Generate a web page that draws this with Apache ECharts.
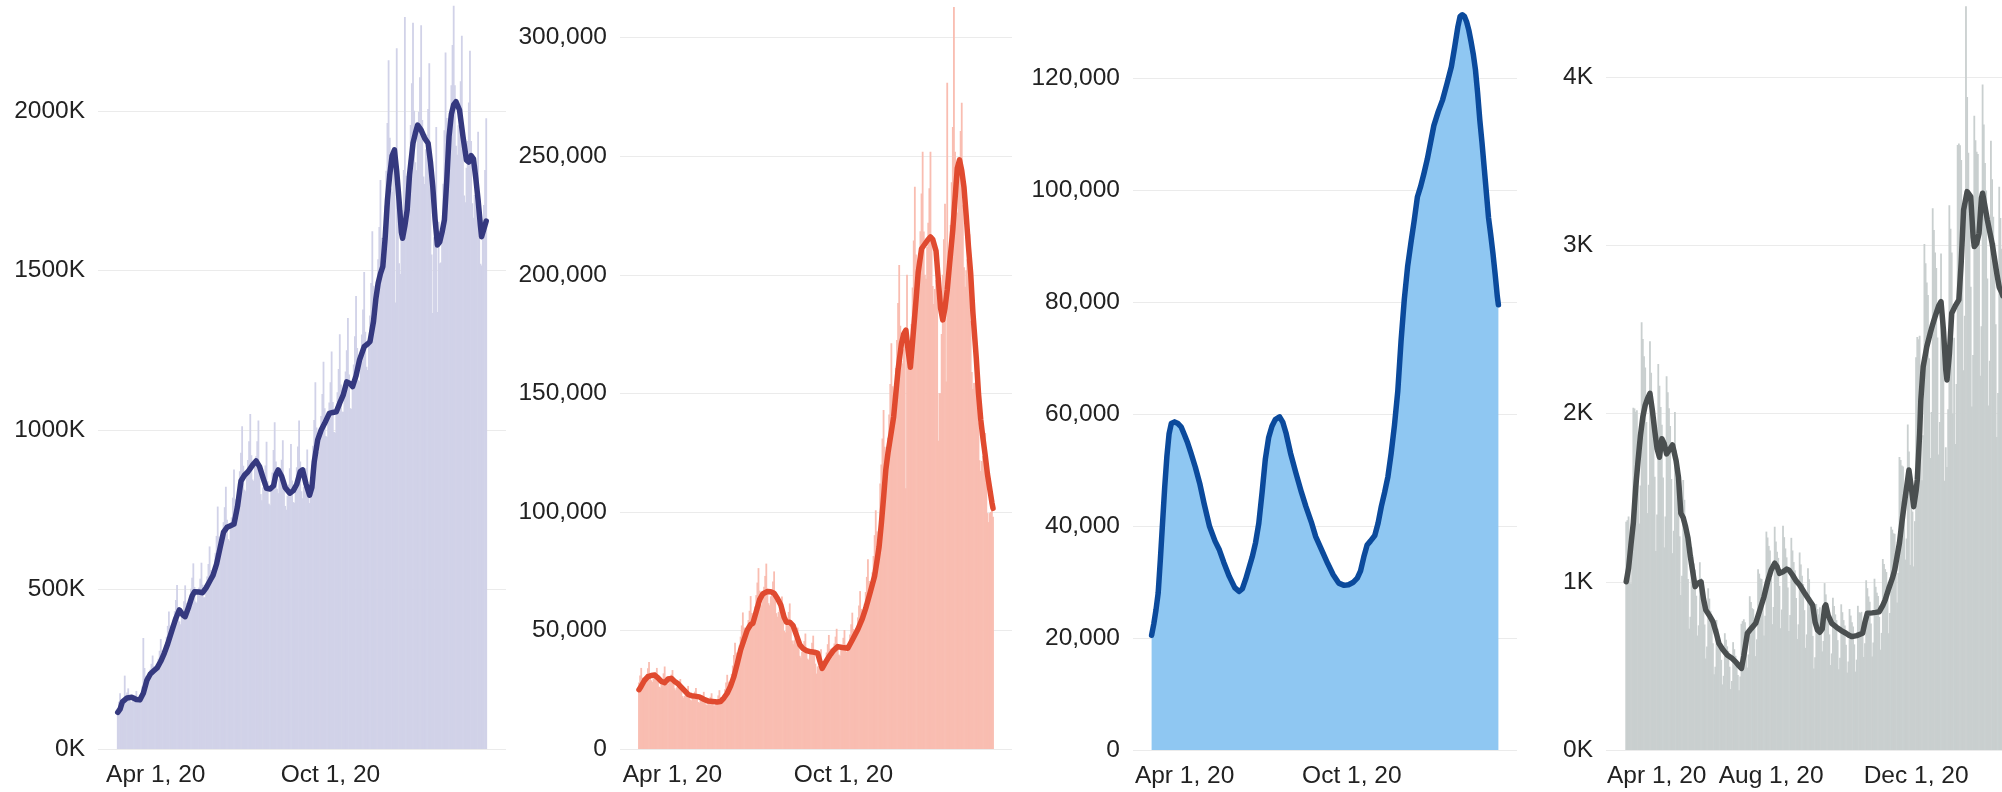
<!DOCTYPE html>
<html><head><meta charset="utf-8">
<script src="https://cdn.jsdelivr.net/npm/echarts@6/dist/echarts.min.js"></script>
<style>html,body{margin:0;padding:0;background:#fff;overflow:hidden}#c{width:2002px;height:792px}</style>
</head><body><div id="c"></div>
<script>
// x positions are day offsets from Apr 1, 2020
const startDate = '2020-04-01';
const xMinDay = -17, xMaxDay = 334;
const tickDaysMain = [0, 183];
const tickLabelsMain = ['Apr 1, 20', 'Oct 1, 20'];
const tickDaysDeaths = [0, 122, 244];
const tickLabelsDeaths = ['Apr 1, 20', 'Aug 1, 20', 'Dec 1, 20'];

// Panel 1: daily tests (K)
const testsDaily = [
129,148,175,157,146,147,230, 166,177,190,167,150,147,154, 160,169,182,159,150,156,173,
196,348,254,229,214,219,236, 249,267,293,260,240,244,265, 283,308,345,309,291,298,327,
352,386,431,387,365,371,406, 432,467,514,443,400,391,414, 427,463,513,458,430,435,475,
502,537,582,508,462,458,486, 506,534,584,515,475,476,513, 541,580,635,561,524,528,574,
615,668,760,666,623,632,678, 711,758,822,719,658,653,696, 726,788,876,783,740,756,832,
871,929,1012,888,813,808,865, 906,965,1050,921,845,840,888, 918,965,1030,888,799,780,820,
842,889,963,839,769,764,817, 867,937,1024,901,816,802,846, 868,907,968,839,762,750,794,
829,880,956,842,774,772,835, 883,948,1030,901,808,786,822, 844,880,939,832,771,800,891,
951,1031,1150,1008,931,930,997, 1044,1113,1214,1068,981,978,1042, 1086,1150,1246,1088,994,991,1065,
1118,1191,1300,1143,1057,1057,1139, 1183,1250,1351,1174,1068,1067,1147, 1205,1294,1420,1257,1156,1153,1238,
1299,1378,1495,1308,1198,1188,1285, 1359,1461,1623,1452,1349,1358,1460, 1535,1636,1784,1603,1504,1544,1704,
1813,1962,2159,1916,1757,1747,1826, 1864,1400,2197,1720,1523,1489,1604, 1689,1815,2295,1797,1692,1705,1847,
1956,2087,2277,2001,1839,1814,1926, 1998,2106,2269,1972,1795,1771,1880, 1926,2006,2150,1816,1550,1367,1604,
1627,1950,1370,1653,1523,1525,1641, 1772,1940,2183,1978,1838,1851,1985, 2081,2207,2330,2081,1891,1863,1955,
2006,2093,2236,1927,1735,1714,1822, 1906,2027,2189,1906,1711,1665,1737, 1773,1831,1935,1654,1521,1516,1627,
1705,1815,1977];
const testsAvgDays = [0,2,4,8,12,16,19,22,25,28,31,34,37,40,43,46,50,53,56,58,61,64,66,70,73,76,79,82,85,88,91,94,97,100,103,106,109,112,116,119,122,125,128,131,134,136,138,141,144,148,151,154,157,159,162,165,167,169,172,175,178,182,185,188,191,194,197,200,202,205,208,212,215,217,220,222,224,226,228,230,232,234,236,238,240,242,244,245,247,249,251,254,256,258,261,264,267,269,271,273,275,277,279,281,283,285,287,289,291,294,297,300,302,304,306,308,310,312,313,315,317];
const testsAvgVals = [115,125,148,160,162,155,154,175,215,235,245,255,275,300,330,365,410,436,420,415,445,480,493,492,490,505,525,545,580,630,680,695,700,705,760,840,858,869,890,903,885,850,817,815,825,860,875,855,820,802,810,830,870,875,830,796,820,900,969,1000,1021,1052,1055,1057,1085,1110,1151,1145,1136,1170,1220,1261,1270,1277,1340,1410,1460,1490,1512,1600,1721,1800,1860,1878,1810,1720,1620,1601,1640,1690,1800,1899,1930,1956,1940,1915,1899,1840,1763,1660,1580,1590,1620,1658,1780,1920,1990,2020,2029,2003,1920,1846,1840,1860,1850,1790,1721,1640,1606,1630,1655];

// Panel 2: daily cases (thousands)
const casesDaily = [
28.1,31,34.2,30.1,27.9,28.1,30.1, 31.7,34.1,36.7,31.7,29,28.3,29.8, 30.9,32.5,34.2,29.1,26.3,25.9,27.4,
29.4,31.9,34.8,30.2,27.6,27.4,28.8, 29.9,31.4,33.3,28.4,25.6,24.8,26, 26.8,28.1,29.5,25,22.3,21.6,22.5,
23.5,25,26.6,22.8,20.8,20.5,21.8, 22.8,24.2,25.7,21.9,19.8,19.5,20.6, 21.4,22.7,24.1,20.6,18.8,18.5,19.7,
20.6,22,23.5,20.3,18.4,18.3,19.5, 20.6,22.6,24.8,21.9,20.6,21,23, 25.2,28.1,31.3,28.4,27.2,28.1,31.7,
35.2,39.6,44.8,40.7,38.9,39.7,43.7, 47.4,52.1,57.6,51.2,47.4,47.6,51.5, 54.4,58.3,64.5,57.4,53.9,54.9,60.1,
64.9,70.2,76.3,66.8,61.1,60.6,64.9, 68.4,73,78.2,67.6,61.5,60.6,64.4, 67,70.6,74.9,63.9,57.3,55.8,57.8,
58.9,61.1,64.3,54.6,49.8,49.2,52.4, 54.6,57.8,61.4,51.7,45.8,44.2,45.8, 46.7,48.4,51.2,43.8,39.3,38.6,41,
42.7,45.5,48.7,41.9,38.1,37.6,40.1, 42,44.8,47.8,41.2,36,31.8,34.8, 35,38.3,42.1,37.2,34.7,35.1,38.1,
40.7,44.2,48.1,42.3,39,38.9,41.9, 44.5,47.4,50.7,43.8,39.8,39.3,41.8, 43.9,46.9,50.2,44.1,40.9,41.4,45.1,
48.3,52.6,57.5,50.6,47,47.5,51.6, 55.5,60.5,66.6,59.1,55.1,56.1,61.3, 66.2,72.6,80,70.9,66.3,67.2,74.5,
81.4,90.2,100.7,91.8,88.4,92.5,112, 120,131,143,127.5,119,120.5,131.3, 141.1,154,171.1,153,144.2,147.2,160.7,
172.5,188.1,204.1,178.5,163.7,162.6,168.6, 173,110,200,169.3,160,163.3,179.3, 194.7,214.5,237.2,208.6,193.4,194.1,207.3,
218.4,234.3,251.9,218.3,200,198.3,211.7, 222,236.5,251.9,216.2,195.3,187.7,194, 197.8,204.6,130,150,150,175,200,
215,230,155,281,210,195,221, 239,262.4,313,251.9,231.1,226.3,239.1, 247.7,260.7,272.6,229.5,203.2,195,201.9,
206.6,211.2,217.1,180.5,159,151.8,154.4, 154.5,159,164,137.7,121.8,117.3,121.5, 123.6,127.6,133.3,112.2,99.5,95.7,99.5,
100,104,98];
const casesAvgDays = [0,2,5,8,11,14,17,20,23,26,29,32,35,38,41,44,47,50,54,58,62,66,70,73,76,79,82,85,88,91,94,97,100,102,105,108,111,115,118,121,124,127,130,132,135,138,141,144,147,150,154,157,160,162,164,167,170,174,178,182,187,191,196,200,203,207,211,213,215,217,219,221,223,226,228,230,232,235,237,239,241,243,245,248,250,253,256,259,261,263,266,268,270,272,274,276,278,281,283,285,287,289,291,293,295,297,299,302,304,306,308,310,312,314,316,317];
const casesAvgVals = [25,26.5,29,30.5,31,31.2,30,28.5,28,29.5,29.8,28.5,27.5,26,24.5,23,22.5,22.3,22,21,20.2,20,19.8,20,21.5,23.5,26.5,30.5,36,41.8,46,50.2,52.5,53,58,63,65.5,66.4,66.3,65.7,63.5,60.7,55.5,53.5,53.5,52,48,44,42.3,41.5,41,40.8,40.4,37,34,36.5,38.9,41.5,43.2,42.8,42.5,46,50.5,55,59.3,66,73,79,85.3,95,106,117.7,125,134,140,150,160,171,175,176.7,168,161,172,189,201,211,213,215,216,215,210,198,186,181,186,193.6,204,219,232,245,248.5,244,237,225,212,200.6,184,165,150,139,131,124,116,110,104,101.5];

// Panel 3: currently hospitalized (thousands)
const hospDays = [0,2,4,6,8,10,12,14,16,18,21,24,27,30,33,36,40,44,48,53,58,62,66,71,76,80,83,86,89,92,95,98,101,104,107,110,113,117,120,123,127,132,137,141,146,150,155,161,166,171,176,180,184,188,191,194,197,200,204,207,210,213,216,219,222,225,228,231,234,237,240,243,246,249,252,255,258,262,266,270,274,277,280,282,284,286,288,290,292,294,296,298,300,302,304,306,308,310,312,314,316,317];
const hospVals = [20.5,22.5,25,28,34,40.5,47,52.5,56.5,58.3,58.6,58.3,57.7,56.3,54.8,53,50.5,47.6,44,39.9,37.3,35.7,33.5,31,29,28.3,28.8,30.5,32.5,34.5,37,40.5,46,52,55.8,57.8,59,59.5,58.5,56.5,53,49.4,46,43.5,40.7,38.1,35.9,33.3,31.3,29.8,29.4,29.5,29.9,30.7,32,34.5,36.6,37.3,38.3,40.5,43.5,46,48.8,53,58,64,73,80.5,86.3,90.5,94.5,98.8,100.7,103,105.5,108.5,111.5,114,116.1,119,122,125.5,129.2,131,131.3,131,130,128.5,126.5,124.3,121.5,117.3,112.5,108.5,104,99.5,95,92,88.7,85,81,79.5];

// Panel 4: daily deaths
const deathsDaily = [
1357,1366,1388,1242,989,1217,2034, 2030,2010,2020,1771,1346,1572,2542, 2443,2341,2273,1950,1408,1576,2430,
2242,2066,1933,1624,1183,1400,2294, 2165,2038,1933,1619,1204,1388,2221, 2126,2031,1925,1611,1170,1303,2009,
1782,1576,1506,1270,921,1035,1605, 1487,1350,1241,1017,721,792,1204, 1156,1109,1072,917,680,741,1116,
1022,932,887,746,544,615,961, 900,827,771,635,450,495,773, 721,672,638,536,390,441,694,
655,616,589,495,362,410,641, 599,560,531,446,355,437,750, 766,777,759,654,490,568,914,
879,843,837,734,558,658,1074, 1048,1020,1016,892,680,798,1298, 1263,1213,1185,1021,748,850,1327,
1239,1179,1142,975,724,835,1333, 1265,1198,1145,966,707,802,1261, 1186,1117,1068,903,660,747,1174,
1103,1035,987,831,607,687,1080, 1015,907,821,678,485,551,868, 838,806,848,782,586,648,992,
925,861,813,687,505,574,905, 856,806,772,653,480,548,866, 819,772,740,626,460,526,838,
799,760,734,628,466,537,857, 819,814,821,724,553,635,1009, 962,913,881,752,556,639,1018,
970,935,915,791,596,696,1135, 1106,1075,1058,920,694,815,1327, 1310,1288,1285,1132,877,1053,1742,
1723,1691,1685,1483,1132,1257,1934, 1774,1100,1612,1417,1091,1360,2334, 2454,2442,2462,2133,1603,1870,3007,
2893,2778,2705,2328,1736,2009,3220, 3090,2957,2865,2452,1756,1950,2951, 2667,2463,1600,1800,1682,2025,3238,
3098,2957,2000,2450,1819,2175,3596, 3605,3595,3506,3020,2257,2581,4420, 3881,3550,3294,2753,2041,2348,3770,
3624,3556,3542,3044,2224,2519,3956, 3717,3489,3326,2802,2048,2313,3621, 3393,3170,3013,2530,1860,2122,3348,
3162,2979,2851];
const deathsAvgDays = [0,2,4,6,8,10,12,14,16,18,20,22,24,26,28,30,32,34,36,39,42,44,46,48,50,52,54,56,58,60,63,65,67,70,73,76,78,81,85,89,92,95,97,99,102,105,109,112,116,119,122,125,127,129,132,135,137,140,143,146,150,154,157,159,161,163,165,167,168,170,173,177,181,185,188,190,194,199,201,203,207,210,213,216,218,221,224,226,228,230,232,234,236,238,240,242,244,245,247,248,250,253,256,258,260,263,265,267,269,270,272,274,277,280,282,284,287,290,292,293,295,297,299,300,302,304,306,308,310,312,314,316,317];
const deathsAvgVals = [1000,1080,1220,1350,1560,1720,1870,1980,2050,2090,2120,2020,1900,1790,1740,1850,1820,1760,1780,1813,1720,1620,1407,1380,1327,1260,1149,1060,971,990,1000,900,832,800,763,690,634,600,565,545,525,500,485,560,694,720,753,820,911,1000,1070,1110,1090,1050,1060,1075,1070,1040,1005,981,935,892,860,760,713,700,720,850,862,800,753,730,710,694,680,674,680,694,760,813,815,818,822,860,892,960,1020,1070,1150,1230,1350,1460,1560,1664,1560,1446,1540,1605,1882,2080,2280,2397,2480,2530,2576,2640,2665,2500,2260,2199,2350,2596,2640,2675,2900,3210,3319,3289,3050,2992,3010,3071,3280,3309,3230,3150,3080,3012,2920,2830,2750,2720,2700];

const FONT = '"Liberation Sans", Arial, Helvetica, sans-serif';
const LABEL_COLOR = '#222';
const GRID_COLOR = '#ebebeb';
const FS = 24.5;

const fmtComma = v => v === 0 ? '0' : v + ',000';
const fmtK = v => v + 'K';

const panels = [
  { grid: {left: 98, top: -48.5, width: 408, height: 797.5}, yMax: 2500, yInt: 500, yFmt: fmtK,
    ticks: tickDaysMain, labels: tickLabelsMain, firstPad: 76,
    bars: testsDaily, barColor: '#d1d2e8', barW: 1.8,
    lineDays: testsAvgDays, lineVals: testsAvgVals, lineColor: '#35397f', lineW: 5.5 },
  { grid: {left: 620, top: -80.8, width: 392, height: 829.8}, yMax: 350, yInt: 50, yFmt: fmtComma,
    ticks: tickDaysMain, labels: tickLabelsMain, firstPad: 67,
    bars: casesDaily, barColor: '#f9bdb1', barW: 1.8,
    lineDays: casesAvgDays, lineVals: casesAvgVals, lineColor: '#e04a2f', lineW: 5.5 },
  { grid: {left: 1133, top: -34, width: 384, height: 784}, yMax: 140, yInt: 20, yFmt: fmtComma,
    ticks: tickDaysMain, labels: tickLabelsMain, firstPad: 66,
    area: true, areaColor: '#8fc7f2',
    lineDays: hospDays, lineVals: hospVals, lineColor: '#0b4a9c', lineW: 5.5 },
  { grid: {left: 1606, top: -91.25, width: 417, height: 841.25}, yMax: 5000, yInt: 1000, yFmt: v => (v / 1000) + 'K',
    ticks: tickDaysDeaths, labels: tickLabelsDeaths, firstPad: 61,
    bars: deathsDaily, barColor: '#c9cfcf', barW: 1.8,
    lineDays: deathsAvgDays, lineVals: deathsAvgVals, lineColor: '#4a4f50', lineW: 5.5 }
];

const grids = [], xAxes = [], yAxes = [], series = [];
panels.forEach((p, i) => {
  grids.push(Object.assign({containLabel: false, outerBoundsMode: 'none'}, p.grid));
  xAxes.push({
    type: 'value', gridIndex: i, min: xMinDay, max: xMaxDay,
    axisLine: {show: false}, axisTick: {show: false}, splitLine: {show: false},
    axisLabel: {
      customValues: p.ticks, margin: 14, fontSize: FS, fontFamily: FONT, color: LABEL_COLOR,
      formatter: v => {
        const k = p.ticks.indexOf(v);
        const t = k >= 0 ? p.labels[k] : '';
        return k === 0 ? '{first|' + t + '}' : t;
      },
      rich: { first: { fontSize: FS, fontFamily: FONT, color: LABEL_COLOR, padding: [0, 0, 0, p.firstPad] } }
    }
  });
  yAxes.push({
    type: 'value', gridIndex: i, min: 0, max: p.yMax, interval: p.yInt,
    axisLine: {show: false}, axisTick: {show: false},
    splitLine: {show: true, lineStyle: {color: GRID_COLOR, width: 1}},
    axisLabel: {margin: 13, fontSize: FS, fontFamily: FONT, color: LABEL_COLOR, formatter: p.yFmt}
  });
  const lineData = p.lineDays.map((d, k) => [d, p.lineVals[k]]);
  if (p.bars) {
    series.push({
      type: 'bar', xAxisIndex: i, yAxisIndex: i, barWidth: p.barW, silent: true,
      itemStyle: {color: p.barColor}, data: p.bars.map((v, d) => [d, v]), z: 2
    });
  }
  series.push({
    type: 'line', xAxisIndex: i, yAxisIndex: i, data: lineData, showSymbol: false, silent: true,
    lineStyle: {color: p.lineColor, width: p.lineW, cap: 'round', join: 'round'},
    areaStyle: p.area ? {color: p.areaColor, opacity: 1} : undefined,
    z: 3
  });
});

const chart = echarts.init(document.getElementById('c'), null, {renderer: 'canvas'});
chart.setOption({
  animation: false,
  backgroundColor: '#ffffff',
  grid: grids, xAxis: xAxes, yAxis: yAxes, series: series
});
</script>
</body></html>
